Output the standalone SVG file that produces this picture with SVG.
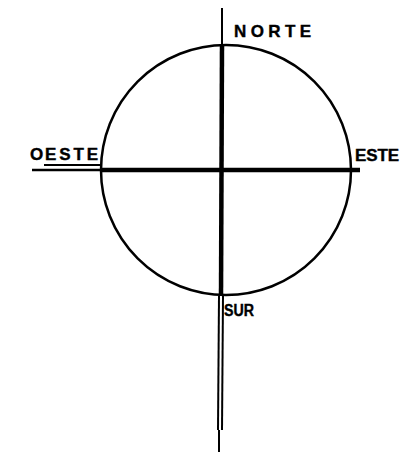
<svg xmlns="http://www.w3.org/2000/svg" width="414" height="458" viewBox="0 0 414 458">
<style>
.l{stroke:#000;fill:none;stroke-linecap:butt}
.t{font-family:"Liberation Sans",Arial,sans-serif;font-weight:bold;font-size:17px;fill:#000;stroke:#000;stroke-width:0.4}
</style>
<rect width="414" height="458" fill="#fff"/>
<g id="connectors">
<circle class="l" cx="226" cy="170" r="125" stroke-width="2.5"/>
<line class="l" x1="222" y1="8" x2="222" y2="44" stroke-width="2"/>
<line class="l" x1="222" y1="44" x2="221" y2="296" stroke-width="4.5"/>
<line class="l" x1="219" y1="296" x2="218" y2="430" stroke-width="2"/>
<line class="l" x1="223" y1="296" x2="222" y2="430" stroke-width="2"/>
<line class="l" x1="219" y1="430" x2="219" y2="452" stroke-width="2"/>
<line class="l" x1="100" y1="170" x2="360" y2="170" stroke-width="4.5"/>
<line class="l" x1="32" y1="170" x2="100" y2="170" stroke-width="2.5"/>
<line class="l" x1="44" y1="165" x2="100" y2="165" stroke-width="2"/>
</g>
<g id="norte"><text class="t" x="234" y="37" textLength="77" lengthAdjust="spacing">NORTE</text></g>
<g id="oeste"><text class="t" x="30" y="160">O</text><text class="t" x="45" y="160" textLength="53" lengthAdjust="spacing">ESTE</text></g>
<g id="este"><text class="t" x="355" y="161" textLength="44" lengthAdjust="spacing">ESTE</text></g>
<g id="sur"><text class="t" x="224" y="316" textLength="30" lengthAdjust="spacingAndGlyphs" style="font-size:16px">SUR</text></g>
</svg>
